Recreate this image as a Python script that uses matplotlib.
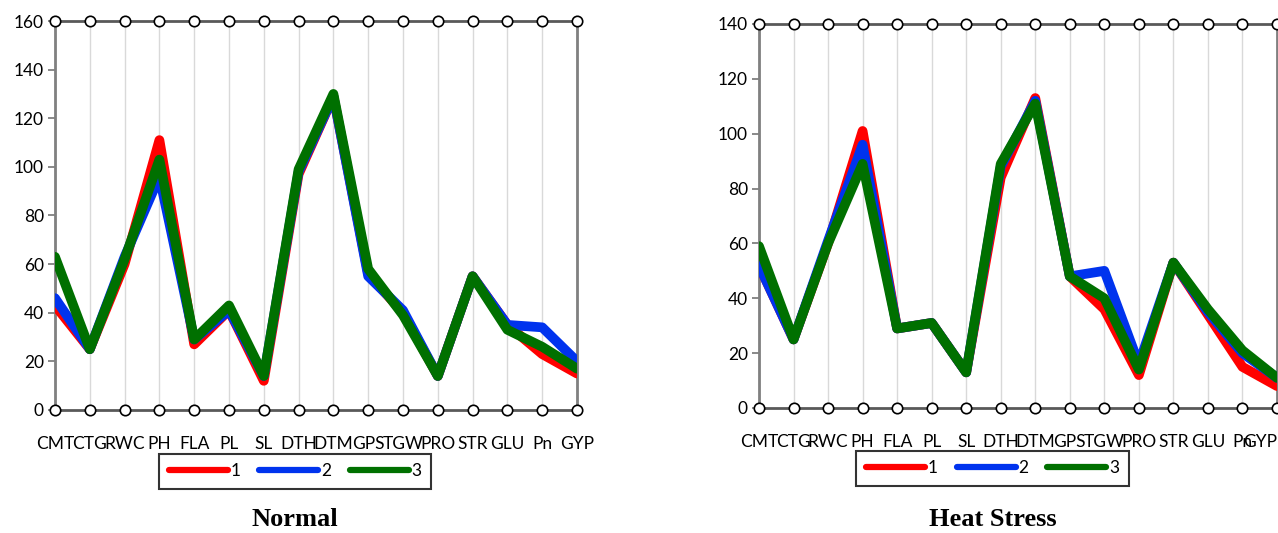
import matplotlib
matplotlib.use("Agg")
import matplotlib.pyplot as plt
import numpy as np

# categories
traits = ['CMT', 'CTG', 'RWC', 'PH', 'FLA', 'PL', 'SL', 'DTH', 'DTM',
          'GPS', 'TGW', 'PRO', 'STR', 'GLU', 'Pn', 'GYP']

# Normal
normal_1 = [43, 25, 60, 111, 27, 41, 12, 97, 129, 56, 40, 14, 55, 35, 23, 15]
normal_2 = [46, 25, 63, 96, 29, 41, 14, 98, 129, 55, 41, 14, 55, 35, 34, 20]
normal_3 = [63, 25, 62, 103, 29, 43, 14, 99, 130, 58, 39, 14, 55, 33, 26, 17]

# Heat stress
heat_1 = [52, 25, 60, 101, 29, 31, 13, 84, 113, 48, 36, 12, 53, 34, 15, 8]
heat_2 = [52, 25, 61, 96, 29, 31, 13, 88, 112, 48, 50, 16, 53, 35, 20, 11]
heat_3 = [59, 25, 60, 89, 29, 31, 13, 89, 111, 48, 40, 14, 53, 36, 21, 11]

series_labels = ['1', '2', '3']
colors = ['#ff0000', '#0033ee', '#007000']
font = 'Lato'
fn = 12.5
lw = 7

W, H = 1278, 533
fig = plt.figure(figsize=(W / 100, H / 100), dpi=100)

panels = [
    # (left, right, top, bottom px), data, ymax, title, title x, legend x
    ((55, 577, 21, 410), [normal_1, normal_2, normal_3], 160, 'Normal', 295, 0.46, False),
    ((759, 1277, 24, 408), [heat_1, heat_2, heat_3], 140, 'Heat Stress', 993, 0.451, True),
]

x = np.arange(len(traits))
for (l, r, t, b), data, ymax, title, tx, legx, cut in panels:
    ax = fig.add_axes([l / W, 1 - b / H, (r - l) / W, (b - t) / H])
    for vals, c, lab in zip(data, colors, series_labels):
        ax.plot(x, vals, color=c, lw=lw, solid_joinstyle='round',
                solid_capstyle='round', label=lab, zorder=3)
    ax.set_xlim(0, len(traits) - 1)
    ax.set_ylim(0, ymax)
    ax.set_yticks(np.arange(0, ymax + 1, 20))
    ax.set_xticks(x)
    ax.set_xticklabels(traits, fontsize=fn, family=font)
    if cut:
        # last label sits on the figure edge, pushed left over "Pn"
        ax.get_xticklabels()[-1].set_horizontalalignment('right')
    for lbl in ax.get_yticklabels():
        lbl.set_fontsize(fn)
        lbl.set_family(font)
    ax.tick_params(axis='x', length=0, pad=19)
    ax.tick_params(axis='y', length=5, width=1.3, color='#808080', pad=3)
    ax.grid(axis='x', color='#d9d9d9', lw=1)
    ax.set_axisbelow(True)
    for s in ['left', 'right']:
        ax.spines[s].set_color('#808080')
        ax.spines[s].set_linewidth(2)
    for s in ['top', 'bottom']:
        ax.spines[s].set_color('#595959')
        ax.spines[s].set_linewidth(2)
    # open circles along top and bottom edges
    for yv in [0, ymax]:
        ax.plot(x, [yv] * len(x), ls='none', marker='o', ms=7.5, mfc='white',
                mec='black', mew=1.2, clip_on=False, zorder=5)
    leg = ax.legend(loc='center', bbox_to_anchor=(legx, -0.157), ncol=3,
                    frameon=True, fancybox=False, edgecolor='black',
                    prop={'family': font, 'size': fn}, handlelength=3.4,
                    handletextpad=0.15, columnspacing=1.1, borderpad=0.55,
                    borderaxespad=0)
    leg.get_frame().set_linewidth(1.5)
    for h in leg.get_lines():
        h.set_linewidth(4.5)
    fig.text(tx / W, 1 - 520 / H, title, ha='center', va='center',
             fontsize=19, fontweight='bold', family='Liberation Serif')

fig.savefig('out.png', dpi=100)
